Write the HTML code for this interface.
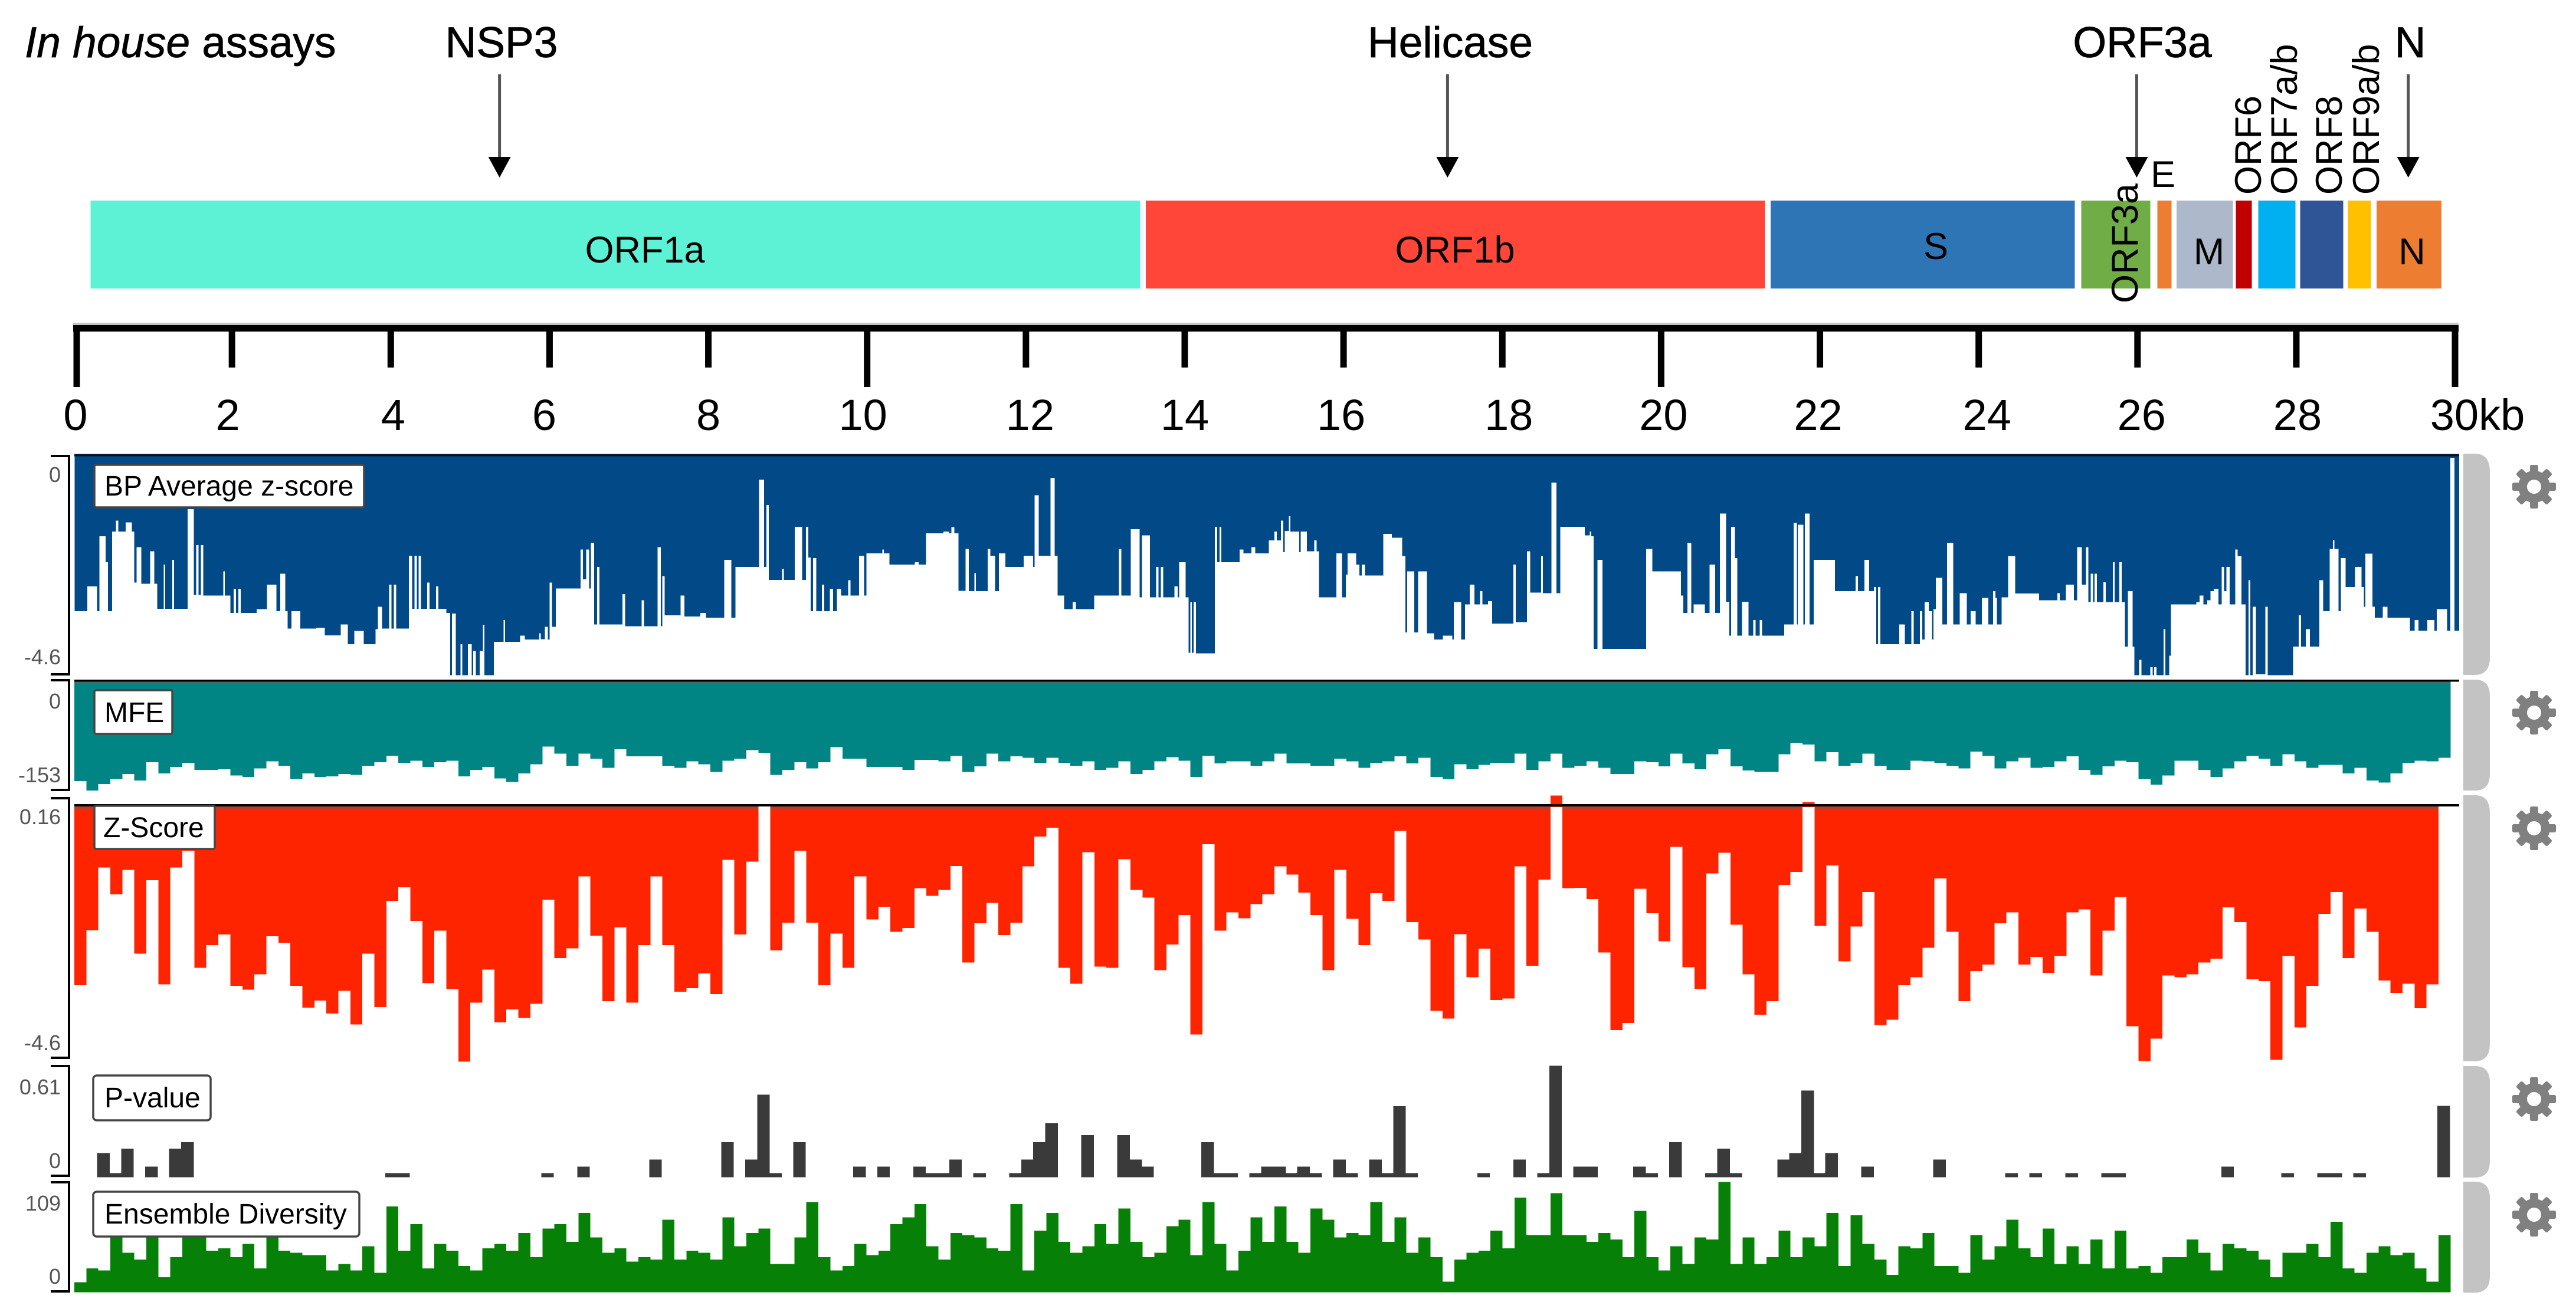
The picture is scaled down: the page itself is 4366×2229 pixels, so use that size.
<!DOCTYPE html>
<html lang="en">
<head>
<meta charset="utf-8">
<title>SARS-CoV-2 genome structure tracks</title>
<style>
html,body{margin:0;padding:0;background:#fff;}
svg{display:block;font-family:"Liberation Sans",Arial,sans-serif;}
.bars rect{shape-rendering:crispEdges;}
.tl{font-size:48px;fill:#000;}
.yl{font-size:36px;fill:#555;text-anchor:end;}
.box{fill:#fff;stroke:#454545;stroke-width:3.5;}
.hd{font-size:73px;fill:#000;stroke:#000;stroke-width:.8px;}
.gn{font-size:63px;fill:#000;}
.rail{fill:#c3c3c3;}
.br{fill:none;stroke:#000;stroke-width:4;}
</style>
</head>
<body>
<svg id="chart" xmlns="http://www.w3.org/2000/svg" width="4366" height="2229" viewBox="0 0 4366 2229">
<rect x="0" y="0" width="4366" height="2229" fill="#fff"/>

<text class="hd" x="42" y="97"><tspan font-style="italic">In house</tspan> assays</text>
<text class="hd" x="850" y="97" text-anchor="middle">NSP3</text>
<text class="hd" x="2458" y="97" text-anchor="middle">Helicase</text>
<text class="hd" x="3631" y="97" text-anchor="middle">ORF3a</text>
<text class="hd" x="4085" y="97" text-anchor="middle">N</text>

<g id="assayArrows"></g>
<g id="genes" class="bars"></g>

<text class="gn" x="1093" y="445" text-anchor="middle">ORF1a</text>
<text class="gn" x="2466" y="445" text-anchor="middle">ORF1b</text>
<text class="gn" x="3281" y="439" text-anchor="middle">S</text>
<text class="gn" x="3666" y="317" text-anchor="middle">E</text>
<text class="gn" x="3744" y="448" text-anchor="middle">M</text>
<text class="gn" x="4088" y="448" text-anchor="middle">N</text>
<text class="gn" transform="translate(3623 514) rotate(-90)">ORF3a</text>
<text class="gn" transform="translate(3832 330) rotate(-90)">ORF6</text>
<text class="gn" transform="translate(3893 330) rotate(-90)">ORF7a/b</text>
<text class="gn" transform="translate(3969 330) rotate(-90)">ORF8</text>
<text class="gn" transform="translate(4032 330) rotate(-90)">ORF9a/b</text>

<rect x="124" y="547" width="4043" height="4.5" fill="#c4c4c4"/>
<rect x="124" y="551" width="4043" height="11" fill="#000"/>
<g id="ruler"></g>

<g id="bpBars" class="bars"></g>
<g id="mfeBars" class="bars"></g>
<g id="zBars" class="bars"></g>
<g id="pBars" class="bars"></g>
<g id="edBars" class="bars"></g>

<rect x="126" y="769.5" width="4042" height="4" fill="#00102a"/>
<rect x="126" y="1152" width="4042" height="3.5" fill="#000"/>
<rect x="126" y="1155.5" width="4027" height="3" fill="#3b6f6f"/>
<rect x="126" y="1363" width="4042" height="4" fill="#000"/>

<path class="br" d="M86 773H117V1143H86"/>
<path class="br" d="M86 1153H117V1339H86"/>
<path class="br" d="M86 1353H117V1793H86"/>
<path class="br" d="M86 1807H117V1993H86"/>
<path class="br" d="M86 2004H117V2189H86"/>

<text class="yl" x="103" y="817">0</text>
<text class="yl" x="103" y="1126">-4.6</text>
<text class="yl" x="103" y="1201">0</text>
<text class="yl" x="103" y="1326">-153</text>
<text class="yl" x="103" y="1397">0.16</text>
<text class="yl" x="103" y="1780">-4.6</text>
<text class="yl" x="103" y="1855">0.61</text>
<text class="yl" x="103" y="1980">0</text>
<text class="yl" x="103" y="2052">109</text>
<text class="yl" x="103" y="2176">0</text>

<g>
<rect class="box" x="160" y="788" width="457" height="72" rx="3"/>
<text class="tl" x="177" y="840">BP Average z-score</text>
</g>
<g>
<rect class="box" x="160" y="1170" width="132" height="74" rx="3"/>
<text class="tl" x="177" y="1224">MFE</text>
</g>
<g>
<rect class="box" x="160" y="1366" width="204" height="73" rx="3"/>
<text class="tl" x="175" y="1419">Z-Score</text>
</g>
<g>
<rect class="box" x="158" y="1823" width="199" height="76" rx="6"/>
<text class="tl" x="177" y="1877">P-value</text>
</g>
<g>
<rect class="box" x="158" y="2020" width="451" height="76" rx="6"/>
<text class="tl" x="177" y="2074">Ensemble Diversity</text>
</g>

<path class="rail" d="M4175 769H4195Q4220 769 4220 800V1114Q4220 1144 4195 1144H4175Z"/>
<path class="rail" d="M4175 1152H4195Q4220 1152 4220 1180V1312Q4220 1340 4195 1340H4175Z"/>
<path class="rail" d="M4175 1348H4195Q4220 1348 4220 1378V1769Q4220 1799 4195 1799H4175Z"/>
<path class="rail" d="M4175 1807H4195Q4220 1807 4220 1835V1968Q4220 1996 4195 1996H4175Z"/>
<path class="rail" d="M4175 2003H4195Q4220 2003 4220 2031V2163Q4220 2191 4195 2191H4175Z"/>

<g id="gears"></g>
</svg>

<script>
// Genome map
const geneNames = ["ORF1a","ORF1b","S","ORF3a","E","M","ORF6","ORF7a/b","ORF8","ORF9a/b","N"];
const geneStartKb = [0.22,13.51,21.38,25.29,26.25,26.49,27.24,27.52,28.05,28.65,29.01];
const geneEndKb = [13.44,21.31,25.21,26.16,26.43,27.20,27.44,27.99,28.59,28.94,29.83];
const geneColors = ["#5df2d6","#ff4639","#2e75b6","#70ad47","#ed7d31","#adb9ca","#c00000","#00b0f0","#2f5597","#ffc000","#ed7d31"];

// In-house assay targets (kb)
const assayNames = ["nsp3","helicase","orf3a","n"];
const assayKb = [5.37,17.31,25.99,29.41];

// Ruler
const tickKb = [0,2,4,6,8,10,12,14,16,18,20,22,24,26,28,30];
const tickLabels = ["0","2","4","6","8","10","12","14","16","18","20","22","24","26","28","30kb"];
const tickLabelNudge = [-2,-7,4,-9,0,-7,7,0,-4,11,4,-3,14,7,2,38];

// BP average z-score: step profile, start of each step (kb) and its z value
const bpStartKb = [
.02,.18,.30,.33,.41,.44,.49,.54,.57,.66,
.74,.77,.80,.86,.97,1.02,1.06,1.14,1.16,1.25,
1.27,1.44,1.52,1.55,1.58,1.61,1.64,1.89,1.91,1.98,
2.02,2.05,2.08,2.11,2.31,2.44,2.56,2.61,2.67,2.70,
2.75,2.86,3.06,3.17,3.37,3.46,3.54,3.66,3.81,3.84,
3.89,3.98,4.01,4.04,4.07,4.23,4.27,4.30,4.33,4.35,
4.38,4.46,4.49,4.57,4.60,4.70,4.75,4.77,4.82,4.88,
4.90,4.97,5.02,5.04,5.07,5.12,5.16,5.18,5.30,5.42,
5.44,5.63,5.69,5.87,5.89,5.94,5.98,6.00,6.03,6.08,
6.39,6.42,6.46,6.50,6.52,6.56,6.60,6.63,6.92,6.95,
7.16,7.19,7.36,7.40,7.42,7.45,7.65,7.70,7.90,7.97,
8.20,8.29,8.34,8.64,8.70,8.73,8.76,8.93,8.95,9.09,
9.18,9.23,9.26,9.29,9.32,9.36,9.43,9.46,9.53,9.57,
9.62,9.67,9.76,9.79,9.90,9.96,9.99,10.19,10.21,10.28,
10.60,10.65,10.74,10.96,11.03,11.06,11.10,11.15,11.24,11.28,
11.35,11.37,11.52,11.55,11.61,11.66,11.74,11.97,12.09,12.11,
12.16,12.31,12.36,12.40,12.48,12.59,12.63,12.86,13.17,13.20,
13.32,13.43,13.46,13.56,13.64,13.67,13.70,13.73,13.87,13.91,
13.93,14.01,14.05,14.07,14.09,14.11,14.14,14.38,14.41,14.44,
14.46,14.69,14.74,14.84,14.89,15.06,15.13,15.16,15.21,15.24,
15.26,15.31,15.33,15.44,15.46,15.54,15.63,15.66,15.69,15.91,
15.98,16.03,16.05,16.16,16.20,16.23,16.27,16.50,16.61,16.74,
16.78,16.80,16.89,16.94,17.05,17.14,17.25,17.37,17.39,17.48,
17.53,17.59,17.65,17.72,17.75,17.82,17.87,18.14,18.17,18.31,
18.35,18.49,18.51,18.62,18.68,18.73,19.04,19.10,19.12,19.15,
19.20,19.26,19.81,19.89,20.25,20.28,20.33,20.38,20.41,20.55,
20.61,20.68,20.74,20.82,20.86,20.88,20.93,20.96,21.02,21.10,
21.16,21.19,21.24,21.27,21.55,21.67,21.71,21.72,21.79,21.81,
21.87,21.92,22.19,22.45,22.48,22.56,22.62,22.68,22.71,22.73,
22.76,23.00,23.07,23.15,23.18,23.26,23.29,23.32,23.37,23.41,
23.43,23.46,23.54,23.60,23.68,23.76,23.85,23.90,23.96,24.04,
24.12,24.18,24.21,24.23,24.29,24.37,24.46,24.76,24.99,25.02,
25.10,25.20,25.24,25.30,25.35,25.38,25.41,25.44,25.46,25.49,
25.57,25.60,25.69,25.71,25.77,25.80,25.84,25.88,25.94,25.96,
26.02,26.05,26.16,26.19,26.21,26.24,26.33,26.35,26.40,26.42,
26.74,26.78,26.83,26.88,26.92,26.96,27.02,27.06,27.09,27.12,
27.16,27.23,27.26,27.31,27.36,27.40,27.42,27.45,27.49,27.61,
27.64,27.96,28.03,28.06,28.12,28.17,28.29,28.34,28.42,28.46,
28.48,28.53,28.56,28.62,28.74,28.82,28.85,28.87,28.96,28.99,
29.09,29.15,29.43,29.49,29.54,29.65,29.74,29.77,29.90,29.94,
29.99];
const bpZ = [
-3.27,-2.75,-3.27,-1.69,-2.24,-3.27,-1.59,-1.36,-1.59,-1.40,
-1.59,-2.67,-1.92,-2.69,-2.01,-2.69,-3.22,-2.29,-3.22,-2.19,
-3.22,-1.12,-2.93,-1.88,-2.93,-1.88,-2.94,-2.43,-2.94,-3.31,
-2.80,-3.31,-2.80,-3.31,-3.23,-2.71,-3.27,-2.48,-3.27,-3.64,
-3.27,-3.64,-3.62,-3.78,-3.55,-3.97,-3.69,-3.97,-3.65,-3.18,
-3.64,-2.71,-3.64,-2.71,-3.64,-2.10,-3.22,-2.10,-3.22,-2.10,
-3.22,-2.67,-3.22,-2.75,-3.22,-3.31,-4.62,-3.32,-4.62,-3.97,
-4.62,-3.97,-4.62,-4.11,-4.62,-4.11,-3.56,-4.62,-3.92,-3.46,
-3.92,-3.79,-3.87,-3.74,-3.86,-3.60,-3.87,-2.67,-3.60,-2.79,
-1.97,-2.60,-1.97,-2.79,-1.83,-3.55,-2.34,-3.55,-2.91,-3.59,
-3.04,-3.59,-1.92,-3.59,-2.53,-3.36,-2.94,-3.38,-3.31,-3.41,
-2.19,-3.41,-2.34,-0.50,-2.34,-1.03,-2.61,-2.38,-2.61,-1.49,
-2.61,-1.49,-2.14,-3.27,-2.15,-3.27,-2.71,-3.27,-2.80,-3.27,
-2.80,-2.94,-2.62,-2.94,-2.10,-2.94,-2.05,-1.97,-2.05,-2.29,
-2.24,-2.29,-1.63,-1.59,-1.63,-1.50,-1.63,-2.84,-1.96,-2.85,
-2.47,-2.85,-1.96,-2.10,-2.85,-2.05,-2.34,-2.10,-2.34,-0.83,
-2.10,-0.46,-2.10,-2.94,-3.23,-3.08,-3.23,-2.94,-1.96,-2.94,
-1.54,-2.98,-1.67,-2.98,-2.34,-2.98,-2.34,-2.98,-2.75,-2.98,
-2.24,-2.98,-4.15,-3.08,-4.15,-3.08,-4.16,-1.49,-2.24,-1.49,
-2.24,-1.97,-2.05,-1.92,-2.05,-1.78,-1.59,-1.78,-1.36,-2.03,
-1.58,-1.27,-1.59,-2.03,-1.59,-2.01,-1.78,-2.01,-2.98,-2.05,
-2.98,-2.50,-2.05,-2.29,-2.52,-2.29,-2.52,-1.64,-1.72,-2.11,
-3.72,-2.43,-3.72,-2.43,-3.74,-3.87,-3.79,-3.87,-3.08,-3.87,
-3.13,-2.71,-3.13,-2.85,-3.13,-3.06,-3.53,-2.29,-3.50,-2.01,
-2.88,-2.11,-2.89,-0.56,-2.89,-1.49,-1.67,-1.59,-1.69,-4.07,
-2.19,-4.07,-1.96,-2.43,-2.94,-3.31,-1.83,-3.31,-3.13,-3.31,
-2.29,-3.31,-1.21,-3.07,-3.79,-1.49,-2.15,-3.79,-3.07,-3.79,
-3.46,-3.79,-3.46,-3.79,-3.55,-1.41,-3.55,-1.45,-3.55,-1.21,
-3.55,-2.19,-2.85,-2.53,-2.85,-2.19,-2.85,-2.76,-3.97,-2.76,
-3.97,-3.55,-3.97,-3.27,-3.97,-3.27,-3.87,-3.08,-3.27,-3.87,
-3.23,-2.57,-3.55,-1.83,-3.55,-2.89,-3.55,-3.27,-3.55,-2.99,
-3.55,-2.85,-2.99,-3.55,-2.98,-2.11,-2.90,-3.04,-2.89,-3.04,
-2.71,-3.04,-1.92,-2.71,-1.92,-3.08,-2.48,-3.08,-2.48,-3.08,
-2.66,-3.08,-2.24,-3.08,-2.24,-3.08,-4.02,-2.85,-4.02,-4.62,
-4.30,-4.62,-4.45,-4.62,-4.45,-4.62,-3.65,-4.62,-4.21,-3.13,
-3.08,-2.94,-3.13,-3.04,-2.85,-2.80,-3.13,-2.34,-2.85,-2.34,
-3.13,-1.97,-2.11,-3.13,-4.62,-2.62,-4.62,-3.18,-4.60,-3.18,
-4.62,-4.02,-3.36,-4.02,-3.65,-4.02,-2.62,-3.27,-1.96,-1.77,
-1.96,-3.27,-2.15,-2.76,-2.34,-2.76,-3.18,-2.06,-3.18,-3.41,
-3.18,-3.41,-3.68,-3.46,-3.68,-3.46,-3.68,-3.23,-3.68,-0.04,
-3.68];

// MFE per window
const mfeValues = [
-141,-154,-145,-138,-131,-140,-114,-130,-121,-115,
-125,-125,-124,-133,-135,-123,-113,-119,-138,-130,
-135,-134,-131,-132,-119,-114,-105,-115,-112,-121,
-114,-112,-134,-125,-121,-137,-142,-130,-117,-92,
-102,-119,-102,-109,-122,-96,-106,-106,-106,-119,
-122,-113,-117,-128,-112,-109,-97,-101,-132,-125,
-114,-123,-114,-93,-109,-109,-121,-121,-121,-125,
-111,-111,-113,-105,-128,-120,-102,-113,-106,-108,
-115,-108,-115,-119,-113,-125,-122,-113,-131,-125,
-113,-107,-112,-135,-105,-116,-113,-113,-119,-113,
-102,-116,-116,-119,-119,-109,-113,-122,-115,-113,
-106,-116,-108,-135,-138,-117,-124,-118,-115,-115,
-102,-125,-113,-102,-122,-119,-113,-122,-131,-131,
-113,-114,-120,-102,-116,-124,-103,-96,-120,-126,
-128,-128,-103,-87,-89,-113,-100,-119,-115,-102,
-119,-125,-125,-112,-113,-115,-119,-123,-99,-105,
-123,-113,-108,-122,-121,-113,-106,-125,-132,-120,
-112,-114,-138,-146,-133,-112,-112,-125,-135,-123,
-113,-105,-109,-119,-103,-113,-122,-118,-118,-130,
-122,-140,-143,-130,-115,-112,-113,-108];

// Z-score per window
const zScores = [
-3.27,-2.26,-1.11,-1.60,-1.15,-2.69,-1.34,-3.25,-1.11,-0.80,
-2.95,-2.53,-2.34,-3.28,-3.35,-3.07,-2.37,-2.49,-3.28,-3.68,
-3.55,-3.79,-3.37,-3.99,-2.69,-3.67,-1.72,-1.47,-2.09,-3.23,
-2.27,-3.34,-4.67,-3.59,-2.98,-3.95,-3.71,-3.87,-3.61,-1.70,
-2.77,-2.59,-1.27,-2.36,-3.56,-2.21,-3.59,-2.53,-1.27,-2.53,
-3.39,-3.32,-3.05,-3.43,-0.97,-2.34,-1.00,0.00,-2.63,-2.12,
-0.80,-2.12,-3.27,-2.32,-2.95,-1.27,-2.06,-1.83,-2.29,-2.22,
-1.49,-1.63,-1.52,-1.08,-2.85,-2.13,-1.76,-2.35,-2.12,-1.09,
-0.54,-0.38,-2.95,-3.24,-0.83,-2.93,-2.95,-0.96,-1.52,-1.66,
-2.99,-2.52,-1.98,-4.17,-0.68,-2.27,-1.93,-2.04,-1.78,-1.60,
-1.09,-1.24,-1.57,-1.98,-2.99,-1.15,-2.05,-2.53,-1.58,-1.72,
-0.44,-2.11,-2.43,-3.74,-3.88,-2.33,-3.12,-2.60,-3.54,-3.51,
-1.09,-2.91,-1.33,0.21,-1.49,-1.48,-1.69,-2.67,-4.09,-3.96,
-1.50,-1.95,-2.46,-0.73,-2.94,-3.34,-1.22,-0.84,-2.16,-3.07,
-3.81,-3.56,-1.43,-1.19,0.09,-2.18,-1.07,-2.83,-2.19,-1.56,
-4.00,-3.90,-3.27,-3.12,-2.58,-1.31,-2.29,-3.56,-3.01,-2.89,
-2.13,-1.93,-2.89,-2.75,-3.04,-2.73,-1.93,-1.88,-3.09,-2.27,
-1.65,-4.02,-4.66,-4.25,-3.09,-3.12,-3.07,-2.85,-2.78,-1.84,
-2.11,-3.16,-3.19,-4.64,-2.73,-4.04,-3.28,-1.96,-1.56,-2.77,
-1.86,-2.29,-3.18,-3.41,-3.24,-3.69,-3.25,0.00];

// P-value per window
const pValues = [
0,0,.134,.024,.157,0,.059,0,.157,.194,
0,0,0,0,0,0,0,0,0,0,
0,0,0,0,0,0,.024,.024,0,0,
0,0,0,0,0,0,0,0,0,.024,
0,0,.059,0,0,0,0,0,.097,0,
0,0,0,0,.194,0,.097,.453,.024,0,
.194,0,0,0,0,.059,0,.059,0,0,
.059,.024,.024,.097,0,.024,0,0,.024,.097,
.194,.296,0,0,.232,0,0,.232,.097,.059,
0,0,0,0,.194,.024,.024,0,.024,.059,
.059,.024,.059,.024,0,.097,.024,0,.097,.024,
.39,.024,0,0,0,0,0,.024,0,0,
.097,0,.024,.612,0,.059,.059,0,0,0,
.059,.024,0,.194,0,0,.024,.157,.024,0,
0,0,.097,.134,.477,.024,.134,0,0,.059,
0,0,0,0,0,.097,0,0,0,0,
0,.024,0,.024,0,0,.024,0,0,.024,
.024,0,0,0,0,0,0,0,0,.059,
0,0,0,0,.024,0,0,.024,.024,0,
.024,0,0,0,0,0,0,.393];

// Ensemble diversity per window
const ensembleDiversity = [
10.1,23.7,21.8,54.9,39.3,32.5,54.9,15.0,34.8,54.9,
54.9,41.3,43.6,34.8,48.1,23.7,54.9,41.3,39.3,36.8,
36.8,21.8,28.2,21.8,45.7,19.5,85.0,41.3,67.5,23.7,
48.1,41.3,26.1,21.8,43.6,48.1,41.3,58.8,34.8,63.2,
67.5,50.0,78.6,54.5,39.3,43.6,30.6,34.8,32.5,72.0,
32.5,41.3,39.3,32.5,74.3,45.7,58.8,63.2,28.2,28.2,
54.5,89.5,34.8,21.8,26.1,48.1,36.8,41.3,67.5,74.3,
87.4,45.7,32.5,58.8,56.8,54.5,43.6,41.3,87.4,21.8,
61.1,78.6,50.0,39.3,45.7,67.5,48.1,83.1,50.0,34.8,
39.3,65.6,72.0,36.8,89.5,48.1,21.8,41.3,74.3,50.0,
85.0,50.0,39.3,83.1,72.0,54.5,58.8,56.8,89.5,50.0,
74.3,39.3,54.5,34.8,10.5,32.5,39.3,41.3,61.1,43.6,
93.8,56.8,56.8,98.3,56.8,56.8,50.0,58.8,52.3,34.8,
80.8,34.8,21.8,45.7,28.2,54.5,52.3,109.4,28.2,54.5,
28.2,34.8,61.1,34.8,54.5,45.7,78.6,26.1,76.3,48.1,
32.5,17.3,45.7,43.6,58.8,26.1,26.1,19.5,56.8,32.5,
45.7,72.0,43.6,34.8,63.2,28.2,45.7,28.2,52.3,23.7,
61.1,23.7,26.1,19.5,34.8,34.8,52.3,39.3,21.8,48.1,
43.6,41.3,32.5,15.0,39.3,39.3,48.1,34.8,69.9,23.7,
19.5,39.3,45.7,36.8,39.3,23.7,10.5,56.8];

const SVG_NS = "http://www.w3.org/2000/svg";
function shape(tag, parentId, attrs) {
  const node = document.createElementNS(SVG_NS, tag);
  for (const key in attrs) node.setAttribute(key, attrs[key]);
  document.getElementById(parentId).appendChild(node);
  return node;
}

// Axis functions
const xKb = kb => 124 + 134.57 * kb;
const binWidth = 20.34;
const xBin = i => 126 + binWidth * i;
const yBp = z => 773 - z * 80.4;
const yMfe = v => 1155 - v * 1.2;
const yZ = v => 1368 - v * 92.4;
const yP = v => 1995.7 - v * 309;
const yEd = v => 2190.7 - v * 1.713;
const BP_END_KB = 30.05;

// Genes
geneNames.forEach((name, i) => {
  const el = shape("rect", "genes", {
    x: xKb(geneStartKb[i]), y: 340,
    width: xKb(geneEndKb[i]) - xKb(geneStartKb[i]), height: 149,
    fill: geneColors[i]
  });
  
  
});

// Assay arrows
assayKb.forEach((kb, i) => {
  const px = xKb(kb);
  const shaft = shape("line", "assayArrows", {x1: px, x2: px, y1: 126, y2: 270, stroke: "#555", "stroke-width": 5});
  
  
  const head = shape("polygon", "assayArrows", {points: (px - 19) + ",266 " + (px + 19) + ",266 " + px + ",301", fill: "#000"});
  
  
});

// Ruler ticks and labels
tickKb.forEach((kb, i) => {
  const px = Math.min(4161, Math.max(130, xKb(kb)));
  const major = kb % 10 === 0;
  const tick = shape("rect", "ruler", {x: px - 5.5, y: 555, width: 11, height: major ? 101 : 68, fill: "#000"});
  
  
  const label = shape("text", "ruler", {x: px + tickLabelNudge[i], y: 729, "text-anchor": "middle", "font-size": 74, fill: "#000"});
  label.textContent = tickLabels[i];
  
  
});

// BP average track
bpStartKb.forEach((start, i) => {
  const end = i + 1 < bpStartKb.length ? bpStartKb[i + 1] : BP_END_KB;
  const el = shape("rect", "bpBars", {
    x: xKb(start), y: yBp(0), width: xKb(end) - xKb(start),
    height: yBp(bpZ[i]) - yBp(0), fill: "#014a87"
  });
  
  
});

// MFE track
mfeValues.forEach((v, i) => {
  const el = shape("rect", "mfeBars", {
    x: xBin(i), y: yMfe(0), width: binWidth, height: yMfe(v) - yMfe(0), fill: "#008484"
  });
  
  
});

// Z-score track
zScores.forEach((v, i) => {
  const top = Math.min(yZ(v), yZ(0));
  const h = Math.abs(yZ(v) - yZ(0));
  const el = shape("rect", "zBars", {x: xBin(i), y: top, width: binWidth, height: h, fill: "#ff2400"});
  
  
  if (v < 0) {
    const edge = shape("rect", "zBars", {x: xBin(i), y: yZ(0) - 1, width: binWidth, height: 4, fill: "#b3402e"});
    
    
  }
});

// P-value track
pValues.forEach((v, i) => {
  if (v <= 0) return;
  const el = shape("rect", "pBars", {
    x: xBin(i) - 2, y: yP(v), width: binWidth + 1, height: yP(0) - yP(v), fill: "#3a3a3a"
  });
  
  
});

// Ensemble diversity track
ensembleDiversity.forEach((v, i) => {
  const el = shape("rect", "edBars", {
    x: xBin(i), y: yEd(v), width: binWidth, height: yEd(0) - yEd(v), fill: "#068006"
  });
  
  
});

// Settings gears
[["bp", 825], ["mfe", 1208], ["z-score", 1404], ["p-value", 1863], ["ensemble", 2059]].forEach(([name, cy]) => {
  const gear = shape("g", "gears", {transform: "translate(4295 " + cy + ")"});
  
  
  gear.setAttribute('id', 'gear-' + name);
  for (let t = 0; t < 8; t++) {
    shape("rect", 'gear-' + name, {x: -7, y: -37, width: 14, height: 74, rx: 3, fill: "#808080", transform: "rotate(" + (t * 45) + ")"});
  }
  shape("circle", 'gear-' + name, {r: 27, fill: "#808080"});
  shape("circle", 'gear-' + name, {r: 12, fill: "#fff"});
});
</script>
</body>
</html>
